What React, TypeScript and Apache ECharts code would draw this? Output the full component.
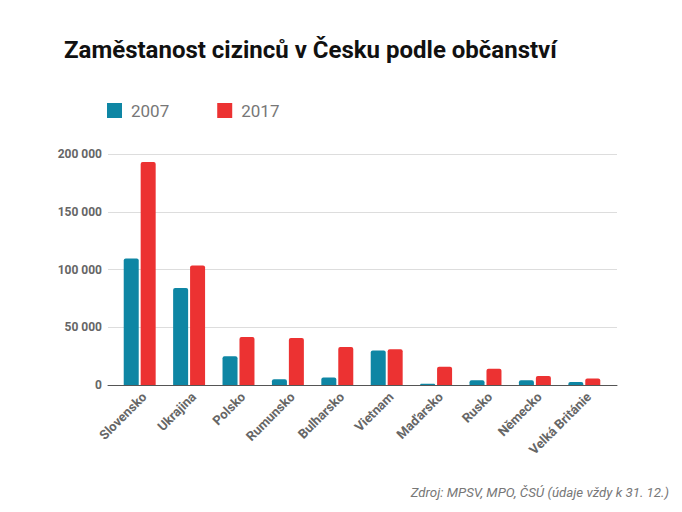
import React, { useEffect, useRef } from "react";
import * as echarts from "echarts";

const categories = ["Slovensko", "Ukrajina", "Polsko", "Rumunsko", "Bulharsko", "Vietnam", "Maďarsko", "Rusko", "Německo", "Velká Británie"];
const values2007 = [109500, 84000, 25000, 5000, 6500, 29800, 1000, 4200, 4200, 2600];
const values2017 = [193000, 103500, 41500, 40800, 33000, 31000, 15800, 14000, 7800, 5600];
const seriesNames = ["2007", "2017"];
const titleText = "Zaměstanost cizinců v Česku podle občanství";
const sourceText = "Zdroj: MPSV, MPO, ČSÚ (údaje vždy k 31. 12.)";
const yMax = 200000;
const yStep = 50000;

export default function App() {
  const ref = useRef<HTMLDivElement>(null);
  useEffect(() => {
    if (!ref.current) return;
    const chart = echarts.init(ref.current, null, { renderer: "svg" });
    chart.setOption({
      animation: false,
      backgroundColor: "#ffffff",
      textStyle: { fontFamily: "Roboto" },
      title: {
        text: titleText,
        left: 59,
        top: 33,
        textStyle: { fontFamily: "Roboto", fontSize: 24, fontWeight: "bold", color: "#111111" },
      },
      legend: {
        left: 102,
        top: 97,
        itemWidth: 15,
        itemHeight: 15,
        itemGap: 48,
        icon: "rect",
        textStyle: { fontFamily: "Roboto", fontSize: 17, color: "#777777", padding: [0, 0, 0, 4] },
        data: seriesNames,
      },
      graphic: [
        {
          type: "text",
          right: 13,
          top: 486,
          style: { text: sourceText, font: "italic 13.3px Roboto", fill: "#777777" },
        },
      ],
      grid: [
        { left: 108, right: 65, top: 154, bottom: 127, containLabel: false },
        { left: 115, right: 73, top: 154, bottom: 127, containLabel: false },
      ],
      xAxis: [
        {
          gridIndex: 0,
          type: "category",
          data: [""],
          axisLine: { lineStyle: { color: "#555555", width: 1 } },
          axisTick: { show: false },
          axisLabel: { show: false },
        },
        {
          gridIndex: 1,
          type: "category",
          data: categories,
          axisLine: { show: false },
          axisTick: { show: false },
          axisLabel: {
            rotate: 45,
            interval: 0,
            margin: 5,
            verticalAlign: "top",
            fontFamily: "Roboto",
            fontSize: 13,
            fontWeight: "bold",
            color: "#666666",
          },
        },
      ],
      yAxis: [
        {
          gridIndex: 0,
          type: "value",
          min: 0,
          max: yMax,
          interval: yStep,
          axisLine: { show: false },
          axisTick: { show: false },
          splitLine: { lineStyle: { color: "#dddddd" } },
          axisLabel: {
            margin: 6,
            fontFamily: "Roboto",
            fontSize: 12,
            fontWeight: "bold",
            color: "#666666",
            formatter: (v: number) => String(v).replace(/\B(?=(\d{3})+(?!\d))/g, " "),
          },
        },
        {
          gridIndex: 1,
          type: "value",
          min: 0,
          max: yMax,
          interval: yStep,
          show: false,
          splitLine: { show: false },
        },
      ],
      series: [
        {
          name: seriesNames[0],
          type: "bar",
          xAxisIndex: 1,
          yAxisIndex: 1,
          data: values2007,
          barWidth: 15,
          barGap: "13%",
          z: 3,
          itemStyle: { color: "#0e86a4", borderRadius: [2, 2, 0, 0] },
        },
        {
          name: seriesNames[1],
          type: "bar",
          xAxisIndex: 1,
          yAxisIndex: 1,
          data: values2017,
          barWidth: 15,
          z: 3,
          itemStyle: { color: "#ec3232", borderRadius: [2, 2, 0, 0] },
        },
      ],
    });
    return () => chart.dispose();
  }, []);
  return <div ref={ref} style={{ width: 682, height: 512, position: "absolute", left: 0, top: 0 }} />;
}
